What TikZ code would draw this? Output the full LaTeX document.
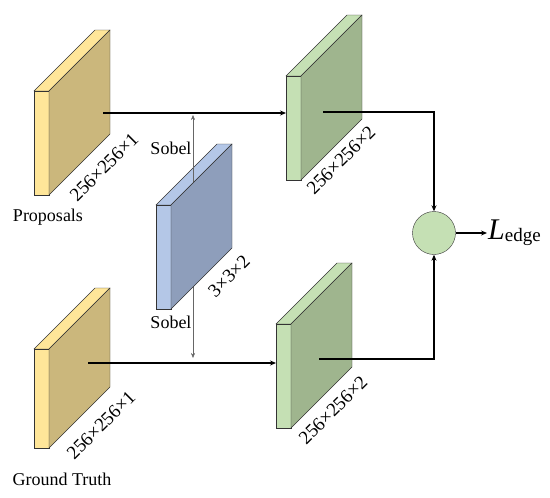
\documentclass[tikz,border=0pt]{standalone}
\usepackage{fontspec}
\setmainfont{Liberation Serif}
\usetikzlibrary{arrows.meta}

\definecolor{yfront}{HTML}{FFE699}
\definecolor{yside}{HTML}{CBB77C}
\definecolor{gfront}{HTML}{C5E0B4}
\definecolor{gside}{HTML}{9FB58E}
\definecolor{bfront}{HTML}{B4C7E7}
\definecolor{bside}{HTML}{8E9EBB}

% slab: x0, y0 (front top left), height, front colour, side colour
\newcommand{\slabtop}[5]{
	\filldraw[draw=black!80, fill=#4, thin] (#1,#2) -- ++(61,-61) -- ++(15,0) -- ++(-61,61) -- cycle;
	\filldraw[draw=black!80, fill=#4, thin] (#1,#2) rectangle ++(15,#3);
}
\newcommand{\slabside}[5]{
	\filldraw[draw=black!80, fill=#5, thin] (#1+15,#2) -- ++(61,-61) -- ++(0,#3) -- ++(-61,61) -- cycle;
}

\tikzset{
	flow/.style={line width=1.1pt, -{Stealth[length=6pt,width=5pt]}},
	dimtext/.style={rotate=45, inner sep=0pt, font=\fontsize{19}{20}\selectfont},
	lbl/.style={font=\fontsize{18}{20}\selectfont}
}

\begin{document}
\begin{tikzpicture}[x=1pt,y=-1pt]
			\useasboundingbox (0,0) rectangle (550,498);
			% input slabs
			\slabtop{34}{91}{104}{yfront}{yside}
			\slabside{34}{91}{104}{yfront}{yside}
			\slabtop{34}{349}{99}{yfront}{yside}
			\slabside{34}{349}{99}{yfront}{yside}
			% output slabs
			\slabtop{286}{76}{104}{gfront}{gside}
			\slabside{286}{76}{104}{gfront}{gside}
			\slabtop{276}{324}{104}{gfront}{gside}
			\slabside{276}{324}{104}{gfront}{gside}
			% sobel kernel
			\slabtop{156}{205}{104}{bfront}{bside}
			\coordinate (sobtop) at (193,115);
			\coordinate (sobbot) at (193,358);
			\draw[black!60, thin, {Stealth[length=5pt,width=4pt]}-{Stealth[length=5pt,width=4pt]}] (sobtop) -- (sobbot);
			\slabside{156}{205}{104}{bfront}{bside}
			% connectors
			\coordinate (prop) at (103,113);
			\coordinate (gin1) at (286,113);
			\coordinate (gout1) at (323,112);
			\coordinate (gt) at (88,363);
			\coordinate (gin2) at (276,363);
			\coordinate (gout2) at (319,359);
			\node[circle, draw=black!80, fill=gfront, minimum size=43pt, inner sep=0pt] (sum) at (434,233) {};
			\draw[flow] (prop) -- (gin1);
			\draw[flow] (gt) -- (gin2);
			\draw[flow] (gout1) -| (sum.north);
			\draw[flow] (gout2) -| (sum.south);
			\coordinate (lend) at (487,233);
			\draw[flow] (sum.east) -- (lend);
			\node[anchor=west, inner sep=1pt] (loss) at (lend) {{\fontsize{30}{32}\selectfont\textit{L}}\raisebox{-0.45ex}{\fontsize{19}{20}\selectfont edge}};
			% labels
			\node[lbl] (proplbl) at (48,217) {Proposals};
			\node[lbl] (gtlbl) at (62,479) {Ground Truth};
			\node[lbl] (sob1) at (171,148) {Sobel};
			\node[lbl] (sob2) at (171,322) {Sobel};
			\node[dimtext] (d1) at (104,167) {256×256×1};
			\node[dimtext] (d2) at (101,425) {256×256×1};
			\node[dimtext] (d3) at (341,160) {256×256×2};
			\node[dimtext] (d4) at (333,410) {256×256×2};
			\node[dimtext] (d5) at (229,276) {3×3×2};
\end{tikzpicture}
\end{document}
